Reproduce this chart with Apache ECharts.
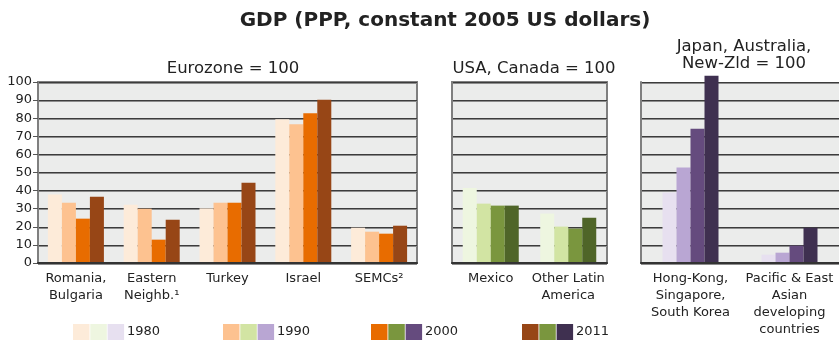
<!DOCTYPE html>
<html>
<head>
<meta charset="utf-8">
<script src="https://cdn.jsdelivr.net/npm/echarts@6/dist/echarts.min.js"></script>
<style>
  html, body { margin: 0; padding: 0; background: #ffffff; }
  #chart { width: 839px; height: 343px; }
</style>
</head>
<body>
<div id="chart"></div>
<script>
// GDP per capita index (PPP, constant 2005 US dollars), three reference regions
const years = ['1980', '1990', '2000', '2011'];

// Eurozone = 100
const euroCategories = ['Romania,\nBulgaria', 'Eastern\nNeighb.\u00B9', 'Turkey', 'Israel', 'SEMCs\u00B2'];
const euro1980 = [37.8, 32.2, 30.2, 79.4, 19.5];
const euro1990 = [33.3, 30.0, 33.3, 76.6, 17.3];
const euro2000 = [24.5, 12.9, 33.3, 82.7, 16.2];
const euro2011 = [36.6, 23.9, 44.4, 90.2, 20.6];

// USA, Canada = 100
const americaCategories = ['Mexico', 'Other Latin\nAmerica'];
const america1980 = [41.4, 27.3];
const america1990 = [32.8, 20.1];
const america2000 = [31.7, 19.0];
const america2011 = [31.7, 25.0];

// Japan, Australia, New-Zld = 100
const asiaCategories = ['Hong-Kong,\nSingapore,\nSouth Korea', 'Pacific & East\nAsian\ndeveloping\ncountries'];
const asia1980 = [38.9, 4.6];
const asia1990 = [52.7, 5.7];
const asia2000 = [74.2, 9.6];
const asia2011 = [103.5, 19.5];

const yTicks = [0, 10, 20, 30, 40, 50, 60, 70, 80, 90, 100];

const orange = ['#fdebd9', '#fdc290', '#e86c00', '#974616'];
const green  = ['#eef6e0', '#d2e4a3', '#7a963e', '#4f6528'];
const purple = ['#e7e0f0', '#b9a6d3', '#654b7e', '#3f3050'];
const legendGreen2011 = '#7a963e';

const FONT = '"DejaVu Sans", Verdana, sans-serif';
const TEXT = '#222222';

const chart = echarts.init(document.getElementById('chart'), null, { renderer: 'canvas' });

const grids = [
  { left: 38, right: 422, top: 82, bottom: 80, border: true },
  { left: 452, right: 232, top: 82, bottom: 80, border: true },
  { left: 641, right: 0, top: 82, bottom: 80, border: false }
];

const gridOpts = grids.map(g => ({
  left: g.left, right: g.right, top: g.top, bottom: g.bottom,
  show: true,
  backgroundColor: '#ebeceb',
  borderColor: g.border ? '#7f7f7f' : 'transparent',
  borderWidth: g.border ? 2 : 0,
  containLabel: false
}));

const cats = [euroCategories, americaCategories, asiaCategories];
const xAxes = cats.map((c, i) => ({
  type: 'category',
  gridIndex: i,
  data: c,
  axisLine: { show: true, lineStyle: { color: '#333333', width: 2 } },
  axisTick: { show: false },
  axisLabel: {
    interval: 0, color: TEXT, fontFamily: FONT, fontSize: 13,
    lineHeight: 17, margin: 7
  },
  zlevel: 2
}));

const yAxes = [0, 1, 2].map(i => ({
  type: 'value',
  gridIndex: i,
  min: 0, max: 100, interval: 10,
  axisLine: { show: true, lineStyle: { color: '#7f7f7f', width: 2 } },
  axisTick: { show: i === 0, length: 5, lineStyle: { color: '#555555' } },
  axisLabel: {
    show: i === 0, color: TEXT, fontFamily: FONT, fontSize: 13, margin: 6,
    formatter: v => (yTicks.indexOf(v) >= 0 ? String(v) : '')
  },
  splitLine: {
    show: true,
    lineStyle: { color: '#3c3c3c', width: 1, shadowColor: '#8c8c8c', shadowOffsetY: 1, shadowBlur: 0 }
  },
  zlevel: 0
}));

const panelData = [
  [euro1980, euro1990, euro2000, euro2011],
  [america1980, america1990, america2000, america2011],
  [asia1980, asia1990, asia2000, asia2011]
];
const panelColors = [orange, green, purple];

const series = [];
panelData.forEach((sets, p) => {
  sets.forEach((vals, k) => {
    series.push({
      type: 'bar',
      name: years[k],
      xAxisIndex: p,
      yAxisIndex: p,
      data: vals,
      barWidth: 14,
      barGap: '0%',
      clip: false,
      itemStyle: { color: panelColors[p][k] },
      emphasis: { disabled: true },
      zlevel: 1
    });
  });
});

// Legend: three colour swatches per year followed by the year
const legendStarts = [73, 223, 371, 522];
const legendGraphics = [];
years.forEach((y, k) => {
  const x0 = legendStarts[k];
  const swatches = [orange[k], green[k], purple[k]];
  if (k === 3) swatches[1] = legendGreen2011;
  swatches.forEach((c, j) => {
    legendGraphics.push({
      type: 'rect',
      shape: { x: x0 + j * 17.3, y: 324, width: 16.5, height: 16 },
      style: { fill: c }
    });
  });
  legendGraphics.push({
    type: 'text',
    x: x0 + 54, y: 332,
    style: { text: y, fill: TEXT, font: '13px ' + FONT, textVerticalAlign: 'middle' }
  });
});

chart.setOption({
  animation: false,
  title: [
    {
      text: 'GDP (PPP, constant 2005 US dollars)',
      left: 440, top: 6, textAlign: 'center',
      textStyle: { fontFamily: FONT, fontSize: 20, fontWeight: 'bold', color: TEXT }
    },
    {
      text: 'Eurozone = 100',
      left: 228, top: 55, textAlign: 'center',
      textStyle: { fontFamily: FONT, fontSize: 16.5, fontWeight: 'normal', color: TEXT }
    },
    {
      text: 'USA, Canada = 100',
      left: 529, top: 55, textAlign: 'center',
      textStyle: { fontFamily: FONT, fontSize: 16.5, fontWeight: 'normal', color: TEXT }
    },
    {
      text: 'Japan, Australia,\nNew-Zld = 100',
      left: 739, top: 33, textAlign: 'center',
      textStyle: { fontFamily: FONT, fontSize: 16.5, fontWeight: 'normal', color: TEXT, lineHeight: 17 }
    }
  ],
  grid: gridOpts,
  xAxis: xAxes,
  yAxis: yAxes,
  series: series,
  graphic: legendGraphics
});
</script>
</body>
</html>
